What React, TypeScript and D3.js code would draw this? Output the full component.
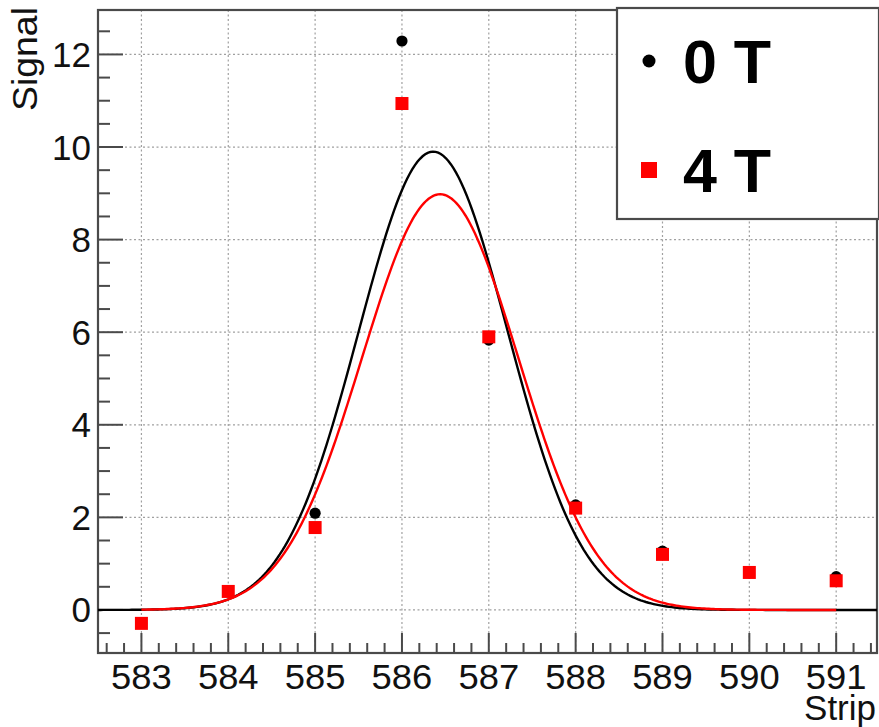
import React from "react";
import * as d3 from "d3";

// Strip numbers and measured signal per field setting
const STRIPS = [583, 584, 585, 586, 587, 588, 589, 590, 591];
const SIGNAL_0T = [-0.29, 0.39, 2.09, 12.29, 5.83, 2.27, 1.27, 0.8, 0.72];
const SIGNAL_4T = [-0.29, 0.4, 1.78, 10.94, 5.9, 2.2, 1.2, 0.81, 0.63];

// Gaussian fit parameters: [constant, mean, sigma] and drawn range
const FIT_0T = [9.9, 586.36, 0.86];
const FIT_RANGE_0T = [582.5, 591.47];
const FIT_4T = [8.98, 586.44, 0.9];
const FIT_RANGE_4T = [583, 591];

const X_TICKS = [583, 584, 585, 586, 587, 588, 589, 590, 591];
const Y_TICKS = [0, 2, 4, 6, 8, 10, 12];
const LEGEND_LABELS = ["0 T", "4 T"];

const W = 879;
const H = 727;
const FRAME = { left: 98, right: 877, top: 10, bottom: 653 };
const FONT = "'Liberation Sans', Arial, Helvetica, sans-serif";
const AXIS_COLOR = "#4a4a4a";
const GRID_COLOR = "#a0a0a0";

export default function App() {
  const x = d3.scaleLinear().domain([582.5, 591.47]).range([FRAME.left, FRAME.right]);
  const y = d3.scaleLinear().domain([-0.93, 12.96]).range([FRAME.bottom, FRAME.top]);

  const gauss = (p: number[]) => (t: number) =>
    p[0] * Math.exp(-0.5 * ((t - p[1]) / p[2]) ** 2);

  const line = d3
    .line<[number, number]>()
    .x((d) => x(d[0]))
    .y((d) => y(d[1]))
    .curve(d3.curveLinear);

  const fitPath = (p: number[], range: number[]) => {
    const f = gauss(p);
    const n = 300;
    const pts: [number, number][] = d3.range(n + 1).map((i) => {
      const t = range[0] + ((range[1] - range[0]) * i) / n;
      return [t, f(t)] as [number, number];
    });
    return line(pts) || "";
  };

  const xMinor = d3
    .range(582.6, 591.45, 0.2)
    .filter((v) => Math.abs(v - Math.round(v)) > 0.01);
  const yMinor = d3
    .range(-0.5, 12.9, 0.5)
    .filter((v) => Math.abs(v / 2 - Math.round(v / 2)) > 0.01);

  const sq = 13;
  const dotR = 5.6;

  return (
    <svg
      width={W}
      height={H}
      style={{ position: "absolute", left: 0, top: 0, background: "#fff" }}
      fontFamily={FONT}
    >
      <rect x={0} y={0} width={W} height={H} fill="#fff" />

      {/* grid */}
      <g stroke={GRID_COLOR} strokeWidth={1.2} strokeDasharray="2,2.5">
        {X_TICKS.map((t) => (
          <line key={"gx" + t} x1={x(t)} x2={x(t)} y1={FRAME.top} y2={FRAME.bottom} />
        ))}
        {Y_TICKS.map((t) => (
          <line key={"gy" + t} x1={FRAME.left} x2={FRAME.right} y1={y(t)} y2={y(t)} />
        ))}
      </g>

      {/* ticks */}
      <g stroke={AXIS_COLOR} strokeWidth={2}>
        {X_TICKS.map((t) => (
          <line key={"tx" + t} x1={x(t)} x2={x(t)} y1={FRAME.bottom} y2={FRAME.bottom - 20} />
        ))}
        {xMinor.map((t) => (
          <line key={"mx" + t} x1={x(t)} x2={x(t)} y1={FRAME.bottom} y2={FRAME.bottom - 10} />
        ))}
        {Y_TICKS.map((t) => (
          <line key={"ty" + t} x1={FRAME.left} x2={FRAME.left + 25} y1={y(t)} y2={y(t)} />
        ))}
        {yMinor.map((t) => (
          <line key={"my" + t} x1={FRAME.left} x2={FRAME.left + 12} y1={y(t)} y2={y(t)} />
        ))}
      </g>

      {/* frame */}
      <rect
        x={FRAME.left}
        y={FRAME.top}
        width={FRAME.right - FRAME.left}
        height={FRAME.bottom - FRAME.top}
        fill="none"
        stroke={AXIS_COLOR}
        strokeWidth={2.2}
      />

      {/* fits and points */}
      <path d={fitPath(FIT_0T, FIT_RANGE_0T)} fill="none" stroke="#000" strokeWidth={2.4} />
      {STRIPS.map((s, i) => (
        <circle key={"p0" + s} cx={x(s)} cy={y(SIGNAL_0T[i])} r={dotR} fill="#000" />
      ))}
      <path d={fitPath(FIT_4T, FIT_RANGE_4T)} fill="none" stroke="#ff0000" strokeWidth={2.4} />
      {STRIPS.map((s, i) => (
        <rect
          key={"p4" + s}
          x={x(s) - sq / 2}
          y={y(SIGNAL_4T[i]) - sq / 2}
          width={sq}
          height={sq}
          fill="#ff0000"
        />
      ))}

      {/* tick labels */}
      <g fontSize={35} fill="#111">
        {X_TICKS.map((t) => (
          <text
            key={"lx" + t}
            x={x(t)}
            y={689}
            textAnchor="middle"
            transform={`translate(${x(t)},0) scale(1.04,1) translate(${-x(t)},0)`}
          >
            {t}
          </text>
        ))}
        {Y_TICKS.map((t) => (
          <text key={"ly" + t} x={91} y={y(t) + 12.5} textAnchor="end">
            {t}
          </text>
        ))}
      </g>

      {/* axis titles */}
      <text x={876} y={720} fontSize={35} textAnchor="end" fill="#111">
        Strip
      </text>
      <text
        transform="translate(37,7) rotate(-90) scale(1.07,1)"
        fontSize={35}
        textAnchor="end"
        fill="#111"
      >
        Signal
      </text>

      {/* legend */}
      <rect x={617} y={8} width={262} height={211} fill="#fff" stroke={AXIS_COLOR} strokeWidth={2.2} />
      <circle cx={649} cy={61} r={6.5} fill="#000" />
      <rect x={641} y={162} width={16} height={16} fill="#ff0000" />
      <g fontSize={61} fontWeight="bold" fill="#000">
        <text x={683} y={83}>
          {LEGEND_LABELS[0]}
        </text>
        <text x={683} y={192}>
          {LEGEND_LABELS[1]}
        </text>
      </g>
    </svg>
  );
}
